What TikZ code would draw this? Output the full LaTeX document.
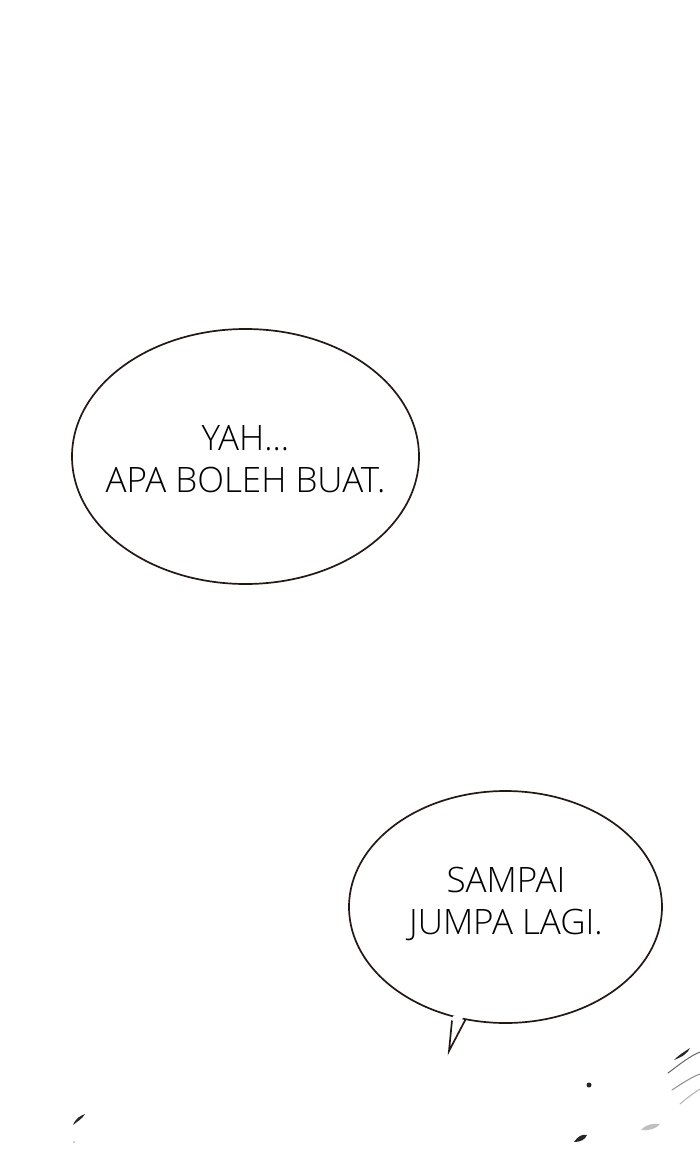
\documentclass[tikz,border=0pt]{standalone}
\usepackage{fontspec}
\setmainfont{Open Sans Light}
\usetikzlibrary{shapes.geometric}
\definecolor{inkline}{HTML}{231815}
\begin{document}
\begin{tikzpicture}[x=1pt, y=-1pt,
    bubble/.style={draw=inkline, line width=1.7pt, ellipse, inner sep=0pt, fill=white},
    says/.style={font=\fontsize{35}{42}\selectfont, align=center, inner sep=0pt},
    speck/.style={fill=black!85, draw=none},
    streak/.style={draw=black!45, line width=1pt, line cap=round}]
    \useasboundingbox (0,0) rectangle (700,1155);
    \fill[white] (0,0) rectangle (700,1155);

    % first bubble
    \node[bubble, minimum width=347, minimum height=255] (yah) at (245.5,456.5) {};
    \node[says] (yahtext) at (245.5,459) {YAH...\\APA BOLEH BUAT.};

    % second bubble with its tail
    \node[bubble, minimum width=313, minimum height=232] (sampai) at (505.5,907) {};
    \coordinate (tip) at (449,1051);
    \fill[white] (453,1016) -- (tip) -- (464,1015) -- cycle;
    \draw[inkline, line width=1.7pt, line join=miter] (452,1020.5) -- (tip) -- (465.5,1019.5);
    \node[says] (sampaitext) at (506,904) {SAMPAI\\JUMPA LAGI.};

    % specks at the bottom
    \fill[speck] (73,1125) .. controls (76,1118) and (80,1116) .. (85,1114) .. controls (82,1119) and (78,1121) .. (73,1125);
    \fill[black!30] (74,1142) circle (1);
    \fill[speck] (589,1085) circle (2.5);
    \fill[speck] (574,1142) .. controls (578,1136) and (582,1134) .. (587,1135) .. controls (585,1140) and (580,1142) .. (574,1142);
    \fill[speck] (674,1060) .. controls (680,1054) and (684,1052) .. (690,1048) .. controls (688,1053) and (682,1057) .. (674,1060);
    \draw[streak, black!60] (668,1073) .. controls (680,1064) and (690,1056) .. (700,1052);
    \draw[streak] (672,1090) .. controls (684,1082) and (692,1077) .. (700,1074);
    \draw[streak, black!30] (680,1104) .. controls (688,1097) and (694,1093) .. (700,1089);
    \fill[black!25] (641,1130) .. controls (645,1125) and (652,1123) .. (660,1124) .. controls (656,1129) and (648,1131) .. (641,1130);
\end{tikzpicture}
\end{document}
